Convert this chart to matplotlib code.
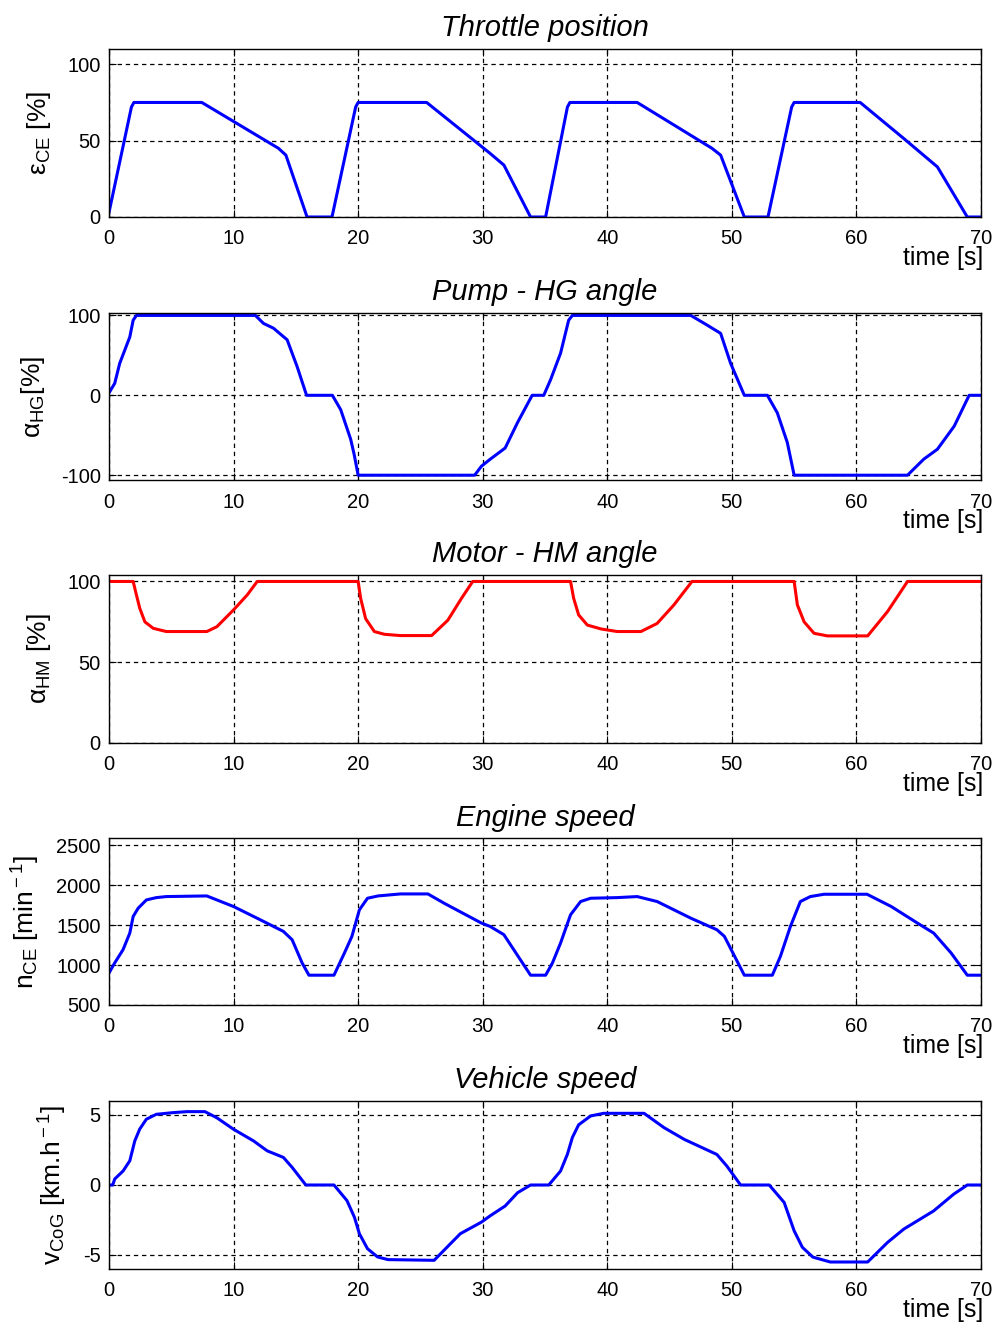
import matplotlib
import numpy as np
from matplotlib import pyplot as plt

plt.rcParams['font.family'] = ['Liberation Sans', 'DejaVu Sans']
plt.rcParams['mathtext.fontset'] = 'custom'
plt.rcParams['mathtext.rm'] = 'Liberation Sans'
plt.rcParams['mathtext.it'] = 'Liberation Sans:italic'
plt.rcParams['axes.unicode_minus'] = False

# throttle position [%]
t_thr = [0, 1.8, 2.0, 7.45, 13.6, 14.2, 15.9, 17.9, 19.8, 20.0, 25.5, 30.6, 31.7, 33.84, 35.05,
         36.8, 37.0, 42.4, 48.4, 49.1, 51.0, 52.9, 54.8, 55.0, 60.3, 63.8, 66.5, 68.9, 70]
v_thr = [3, 72, 75, 75, 45, 40.5, 0, 0, 72, 75, 75, 41.6, 34, 0, 0,
         72, 75, 75, 45, 40.5, 0, 0, 72, 75, 75, 51.4, 32.8, 0, 0]

# pump HG angle [%]
t_hg = [0, 0.46, 0.86, 1.67, 1.94, 2.2, 11.75, 12.4, 13.2, 14.3, 15.1, 15.86, 17.93, 18.6, 19.4,
        19.68, 20.0, 29.35, 29.9, 30.6, 31.8, 32.8, 33.97, 34.9, 35.45, 36.25, 36.9, 37.2, 46.7,
        48.0, 49.1, 49.9, 51.0, 52.85, 53.65, 54.45, 55.0, 64.1, 65.4, 66.5, 67.85, 69.05, 70]
v_hg = [3, 15, 40, 73, 94, 100, 100, 90, 84, 69.5, 36, 0, 0, -18, -55,
        -74, -100, -100, -88.7, -80, -66, -34, 0, 0, 19.6, 52.7, 94, 100, 100,
        88, 77.5, 40, 0, 0, -22, -59, -100, -100, -80, -67.5, -38.6, 0, 0]

# motor HM angle [%]
t_hm = [0, 1.94, 2.2, 2.47, 2.88, 3.55, 4.6, 7.85, 8.66, 10.0, 11.1, 11.9, 20.0, 20.2, 20.6,
        21.3, 22.1, 23.4, 25.9, 27.2, 28.3, 29.2, 37.05, 37.3, 37.7, 38.4, 39.5, 40.8, 42.7,
        44.0, 45.35, 46.8, 55.0, 55.26, 55.8, 56.6, 57.67, 60.9, 62.5, 64.1, 70]
v_hm = [100, 100, 91.7, 83.4, 75, 71, 69, 69, 72, 82.4, 91.7, 100, 100, 89.6, 77,
        69, 67.3, 66.5, 66.5, 76, 89.6, 100, 100, 89.6, 79.3, 73, 70.6, 69, 69,
        74, 85.5, 100, 100, 85.5, 75, 67.9, 66.3, 66.3, 81.4, 100, 100]

# engine speed [1/min]
t_eng = [0, 0.46, 1.13, 1.67, 1.94, 2.34, 3.0, 3.8, 4.6, 7.85, 10.0, 12.15, 14.0, 14.7, 15.5,
         16.05, 18.06, 18.9, 19.5, 20.1, 20.75, 21.6, 23.4, 25.6, 26.9, 29.9, 30.6, 31.7, 33.84,
         35.05, 35.6, 36.25, 37.05, 37.86, 38.66, 40.8, 42.4, 44.0, 46.7, 48.8, 49.4, 51.0,
         53.25, 53.9, 54.7, 55.5, 56.3, 57.4, 60.85, 62.8, 64.9, 66.2, 67.6, 68.9, 70]
v_eng = [900, 1027, 1193, 1400, 1608, 1711, 1815, 1844, 1857, 1865, 1732, 1566, 1421, 1317, 1027,
         873, 873, 1151, 1359, 1691, 1836, 1865, 1890, 1890, 1774, 1525, 1483, 1380, 873,
         873, 1027, 1276, 1629, 1795, 1836, 1844, 1857, 1795, 1587, 1442, 1359, 873,
         873, 1110, 1483, 1795, 1857, 1886, 1886, 1732, 1525, 1400, 1151, 873, 873]

# vehicle speed [km/h]
t_veh = [0, 0.3, 0.46, 1.13, 1.67, 2.07, 2.47, 3.0, 3.8, 5.16, 6.24, 7.7, 8.66, 10.0, 11.6,
         12.7, 14.0, 14.7, 15.8, 18.06, 19.1, 19.7, 20.1, 20.75, 21.56, 22.4, 26.1, 28.2, 29.9,
         30.6, 31.8, 32.8, 33.84, 35.3, 36.25, 36.8, 37.2, 37.7, 38.66, 39.7, 42.95, 44.55, 46.2,
         48.8, 49.6, 50.7, 53.0, 54.2, 55.0, 55.66, 56.5, 57.9, 60.9, 62.5, 63.8, 66.2, 67.8,
         68.9, 70]
v_veh = [0, 0, 0.43, 1.0, 1.73, 3.15, 4.0, 4.7, 5.05, 5.17, 5.24, 5.24, 4.8, 3.98, 3.15,
         2.44, 1.97, 1.26, 0.0, 0, -1.11, -2.3, -3.48, -4.55, -5.14, -5.33, -5.38, -3.48, -2.65,
         -2.2, -1.5, -0.55, 0, 0, 1.0, 2.2, 3.4, 4.3, 4.93, 5.12, 5.12, 4.1, 3.25,
         2.18, 1.35, 0, 0, -1.25, -3.27, -4.45, -5.15, -5.5, -5.5, -4.1, -3.15, -1.85, -0.66,
         0, 0]

panels = [
    ('Throttle position', t_thr, v_thr, 'blue', 'ε$_{\\rm CE}$ [%]', (0, 110), [0, 50, 100]),
    ('Pump - HG angle', t_hg, v_hg, 'blue', 'α$_{\\rm HG}$[%]', (-106, 103), [-100, 0, 100]),
    ('Motor - HM angle', t_hm, v_hm, 'red', 'α$_{\\rm HM}$ [%]', (0, 104), [0, 50, 100]),
    ('Engine speed', t_eng, v_eng, 'blue', 'n$_{\\rm CE}$ [min$^{\\rm -1}$]', (500, 2590),
     [500, 1000, 1500, 2000, 2500]),
    ('Vehicle speed', t_veh, v_veh, 'blue', 'v$_{\\rm CoG}$ [km.h$^{\\rm -1}$]', (-6, 6), [-5, 0, 5]),
]

W, H = 997, 1326
fig = plt.figure(figsize=(W / 100, H / 100), dpi=100)
tops = [49, 313, 575, 838, 1101]
bottoms = [217, 480, 743, 1005, 1269]

for (title, t, v, color, ylabel, ylim, yticks), top, bot in zip(panels, tops, bottoms):
    ax = fig.add_axes([109 / W, 1 - bot / H, 872 / W, (bot - top) / H])
    ax.plot(t, v, color=color, lw=2.2)
    ax.set_xlim(0, 70)
    ax.set_ylim(*ylim)
    ax.set_xticks(np.arange(0, 71, 10))
    ax.set_yticks(yticks)
    ax.grid(True, color='black', linestyle=(0, (3.5, 3)), linewidth=0.9)
    ax.tick_params(direction='in', labelsize=14.5, length=5, top=True, right=True)
    ax.tick_params(axis='x', pad=9)
    ax.tick_params(axis='y', pad=6)
    for s in ax.spines.values():
        s.set_linewidth(1.0)
    ax.set_title(title, fontsize=21, style='italic', pad=9)
    ax.set_ylabel(ylabel, fontsize=19, labelpad=10)
    ax.text(1.003, -0.245, 'time [s]', transform=ax.transAxes, ha='right', va='center', fontsize=18)

plt.savefig('out.png', dpi=100)
